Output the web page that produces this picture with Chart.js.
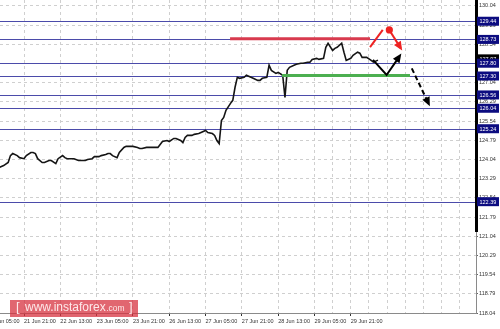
<!DOCTYPE html>
<html><head><meta charset="utf-8">
<script src="https://cdn.jsdelivr.net/npm/chart.js@4.4.1/dist/chart.umd.min.js"></script>
<style>html,body{margin:0;padding:0;background:#fff;overflow:hidden}#wrap{width:500px;height:329px;position:relative}</style>
</head><body><div id="wrap"><canvas id="c"></canvas></div>
<script>
// hourly bar index (0 = 21 Jun 05:00) and closing prices
const barIndex = [5,7,9,10,11,13,14,16,17,19,20,21,22,24,25,27,28,30,31,33,34,35,37,38,40,42,43,44,46,47,49,50,52,53,54,55,57,58,60,61,63,64,66,67,68,70,72,73,75,77,79,80,82,83,85,86,87,88,90,91,93,94,96,97,99,100,101,102,103,104,105,107,108,109,110,111,113,114,116,117,119,120,121,123,124,125,127,128,130,131,132,133,135,136,138,139,141,142,143,145,146,148,149,150,152,153,154,156,157,158,160,161,163,164,165,167,169,170,172];
const closes = [123.72,123.80,123.92,124.19,124.27,124.19,124.11,124.07,124.19,124.31,124.31,124.27,124.07,123.92,123.92,124.00,124.00,123.88,124.07,124.19,124.11,124.07,124.07,124.07,124.00,124.00,124.00,124.04,124.07,124.15,124.15,124.19,124.23,124.27,124.27,124.19,124.11,124.31,124.51,124.55,124.55,124.55,124.51,124.47,124.47,124.51,124.51,124.51,124.51,124.74,124.78,124.74,124.86,124.86,124.78,124.70,124.90,124.98,124.98,125.02,125.05,125.09,125.17,125.09,125.05,124.98,124.78,124.66,125.56,125.68,125.96,126.23,126.35,126.86,127.25,127.21,127.25,127.33,127.25,127.21,127.13,127.13,127.21,127.25,127.72,127.52,127.40,127.44,127.33,126.46,127.52,127.64,127.72,127.76,127.80,127.80,127.84,127.84,127.95,127.99,127.95,127.99,128.42,128.58,128.30,128.38,128.42,128.58,128.23,127.91,127.99,128.11,128.23,128.19,128.03,128.03,127.91,127.84,127.92];
const timeLabels = ['21 Jun 05:00','21 Jun 21:00','22 Jun 13:00','23 Jun 05:00','23 Jun 21:00','26 Jun 13:00','27 Jun 05:00','27 Jun 21:00','28 Jun 13:00','29 Jun 05:00','29 Jun 21:00'];
const priceTicks = [118.04,118.79,119.54,120.29,121.04,121.79,122.54,123.29,124.04,124.79,125.54,126.29,127.04,127.79,128.54,129.29,130.04];
const levels = [129.44,128.73,127.80,127.30,126.56,126.04,125.24,122.39];
const lastPrice = 127.97;
// drawn forecast marks, in (bar index, price)
const resistanceSeg = [[106.8,128.76],[168.5,128.76]];
const supportSeg = [[129.7,127.32],[186.1,127.32]];
const blackPath = [[169.8,127.93],[175.8,127.34],[181.4,128.06]];
const redRise = [[168.5,128.43],[174.1,129.10]];
const redDot = [177.0,129.10];
const redFall = [[177.0,129.10],[182.0,128.39]];
const dashedFall = [[186.9,127.60],[194.2,126.24]];

const FONT = 'Liberation Sans, Arial, sans-serif';

function arrowHead(ctx, x1, y1, x2, y2, color, len, wid) {
  const a = Math.atan2(y2 - y1, x2 - x1);
  ctx.save();
  ctx.fillStyle = color;
  ctx.translate(x2, y2); ctx.rotate(a);
  ctx.beginPath(); ctx.moveTo(0, 0); ctx.lineTo(-len, wid / 2); ctx.lineTo(-len, -wid / 2); ctx.closePath(); ctx.fill();
  ctx.restore();
}

const overlay = {
  id: 'overlay',
  beforeDatasetsDraw(chart) {
    const {ctx, chartArea: a, scales: {y}} = chart;
    ctx.save();
    ctx.lineWidth = 1; ctx.strokeStyle = '#4b4baa';
    levels.forEach(v => {
      const py = Math.round(y.getPixelForValue(v)) + 0.5;
      ctx.beginPath(); ctx.moveTo(a.left, py); ctx.lineTo(a.right, py); ctx.stroke();
    });
    ctx.restore();
  },
  afterDatasetsDraw(chart) {
    const {ctx, scales: {x, y}} = chart;
    const P = p => [x.getPixelForValue(p[0]), y.getPixelForValue(p[1])];
    const poly = (pts, color, w, dash) => {
      ctx.save(); ctx.strokeStyle = color; ctx.lineWidth = w; ctx.setLineDash(dash || []);
      ctx.beginPath(); pts.map(P).forEach((q, i) => i ? ctx.lineTo(q[0], q[1]) : ctx.moveTo(q[0], q[1])); ctx.stroke();
      ctx.restore();
    };
    poly(resistanceSeg, '#d83a4e', 3);
    poly(supportSeg, '#4caf50', 3);
    // black arrow
    const bp = blackPath.map(P);
    poly(blackPath, '#000', 2);
    arrowHead(ctx, bp[1][0], bp[1][1], bp[2][0] + 2, bp[2][1] - 3, '#000', 9, 8);
    // red
    poly(redRise, '#ee2222', 2);
    const d = P(redDot);
    ctx.save(); ctx.fillStyle = '#ee2222'; ctx.beginPath(); ctx.arc(d[0], d[1], 3.6, 0, Math.PI * 2); ctx.fill(); ctx.restore();
    const rf = redFall.map(P);
    poly(redFall, '#ee2222', 2);
    arrowHead(ctx, rf[0][0], rf[0][1], rf[1][0] + 1.5, rf[1][1] + 2.5, '#ee2222', 9, 8);
    // dashed black
    const df = dashedFall.map(P);
    poly(dashedFall, '#000', 2, [5, 3]);
    arrowHead(ctx, df[0][0], df[0][1], df[1][0] + 1.5, df[1][1] + 3, '#000', 9, 8);
  },
  afterDraw(chart) {
    const {ctx, chartArea: a, scales: {y}} = chart;
    ctx.save();
    // borders
    ctx.fillStyle = '#8a8a8a';
    ctx.fillRect(0, Math.round(a.bottom), Math.round(a.right) + 1, 1);
    ctx.fillRect(Math.round(a.right), 232, 1, Math.round(a.bottom) - 232);
    ctx.fillStyle = '#000';
    ctx.fillRect(Math.round(a.right) - 1, 0, 3, 232);
    // price boxes
    ctx.font = '5.5px ' + FONT; ctx.textBaseline = 'middle'; ctx.textAlign = 'left';
    const box = (v, col) => {
      const py = y.getPixelForValue(v);
      ctx.fillStyle = col; ctx.fillRect(a.right + 1, py - 4.5, 498 - a.right, 9);
      ctx.fillStyle = '#fff'; ctx.fillText(v.toFixed(2), a.right + 3.5, py + 0.5);
    };
    box(lastPrice, '#000');
    levels.forEach(v => box(v, '#0c0c80'));
    // watermark
    ctx.fillStyle = 'rgba(214,48,62,0.74)';
    ctx.fillRect(10, 300, 128, 17);
    ctx.fillStyle = 'rgba(255,240,240,0.95)';
    ctx.textBaseline = 'middle';
    ctx.font = '13px ' + FONT; ctx.fillText('[', 16, 307.5);
    ctx.font = '12px ' + FONT; ctx.fillText('www.instaforex', 25, 307.5);
    const w = ctx.measureText('www.instaforex').width;
    ctx.font = '8.5px ' + FONT; ctx.fillText('.com', 25 + w + 0.5, 308.5);
    ctx.font = '13px ' + FONT; ctx.fillText(']', 129, 307.5);
    ctx.restore();
  }
};

new Chart(document.getElementById('c'), {
  type: 'line',
  data: {
    datasets: [{
      data: barIndex.map((b, i) => ({x: b, y: closes[i]})),
      borderColor: '#151515', borderWidth: 1.6, pointRadius: 0, tension: 0, fill: false
    }]
  },
  options: {
    responsive: true, maintainAspectRatio: false, animation: false, devicePixelRatio: 1,
    layout: {padding: 0},
    plugins: {legend: {display: false}, tooltip: {enabled: false}},
    scales: {
      x: {
        type: 'linear', min: 5.4, max: 215.2,
        afterBuildTicks(s) {
          const t = [];
          for (let i = 0; i <= 208; i += 8) if (i % 16 === 0 || i >= 152) t.push({value: i});
          s.ticks = t;
        },
        afterFit(s) { s.height = 16; s.paddingLeft = 0; s.paddingRight = 0; },
        ticks: {
          autoSkip: false, maxRotation: 0, minRotation: 0, align: 'start', padding: 2,
          color: '#333', font: {family: FONT, size: 5.5},
          callback: v => (v % 16 === 0 && v / 16 < timeLabels.length) ? timeLabels[v / 16] : ''
        },
        grid: {
          color: '#cfcfcf', lineWidth: 1, tickLength: 3,
          tickColor: c => (c.tick && c.tick.value % 16 === 0 && c.tick.value <= 160) ? '#333' : 'rgba(0,0,0,0)'
        },
        border: {display: false, dash: [3, 3]}
      },
      y: {
        position: 'right', min: 118.04, max: 130.27,
        afterBuildTicks(s) { s.ticks = priceTicks.map(v => ({value: v})); },
        afterFit(s) { s.width = 24; s.paddingTop = 0; s.paddingBottom = 0; },
        ticks: {color: '#333', font: {family: FONT, size: 5.5}, padding: 1, callback: v => v.toFixed(2)},
        grid: {color: '#cfcfcf', lineWidth: 1, tickLength: 2, tickColor: '#666'},
        border: {display: false, dash: [3, 3]}
      }
    }
  },
  plugins: [overlay]
});
</script></body></html>
